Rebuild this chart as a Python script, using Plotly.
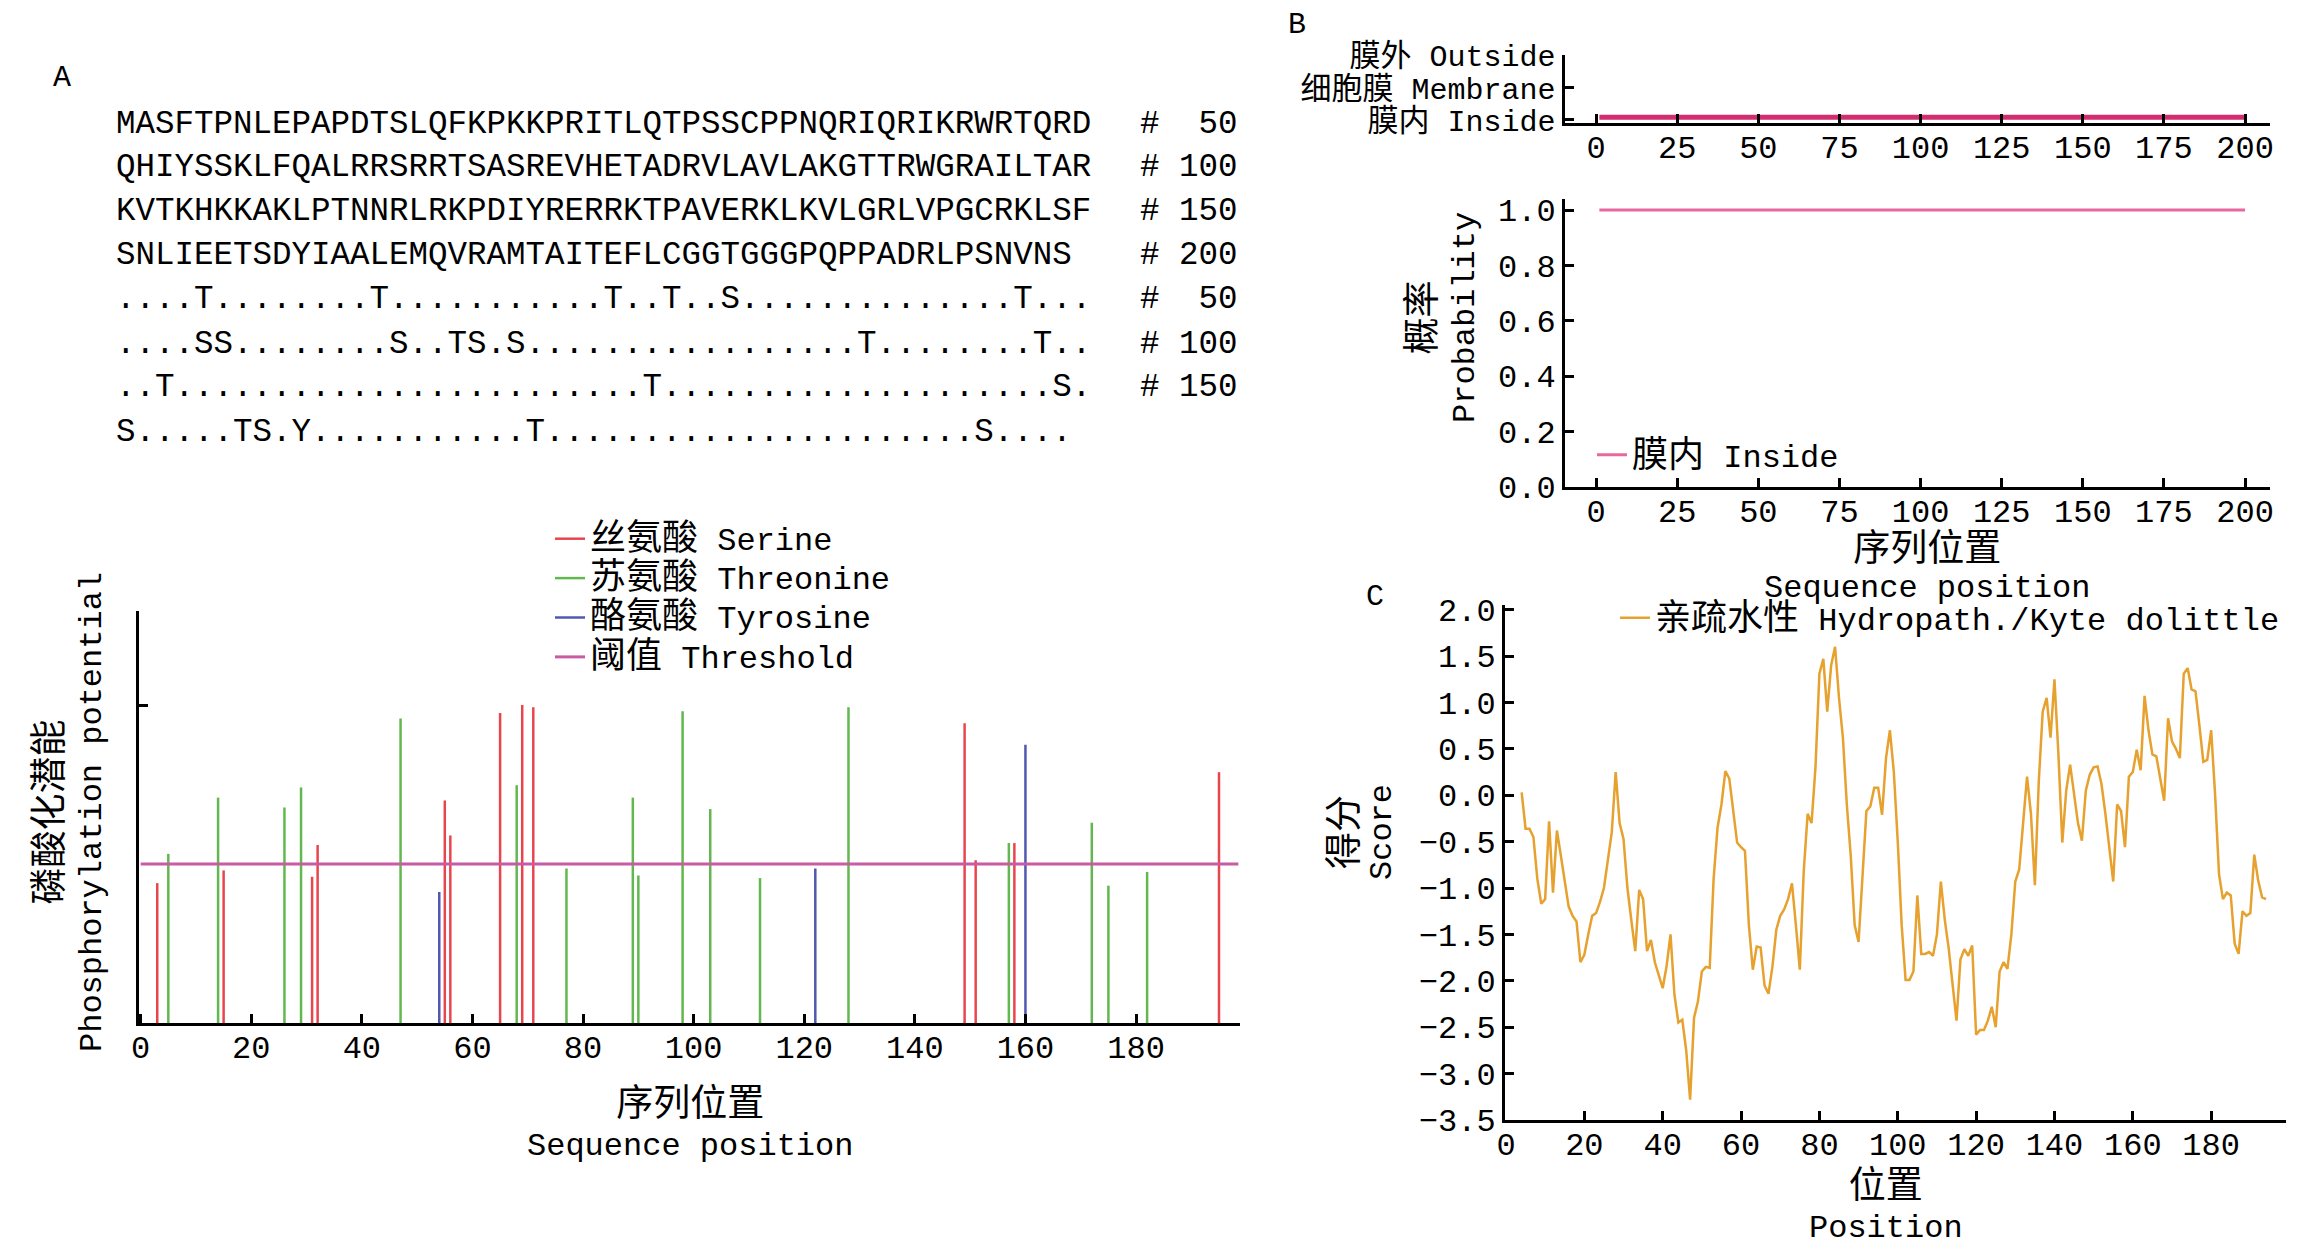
import plotly.graph_objects as go

W, H = 2316, 1254
OFF = 8  # the page body margin pushes the figure 8 px right and down
FONT = "Liberation Mono, Noto Sans CJK SC, monospace"

# ---- panel A: sequence with predicted sites ----
seq_rows = [
    "MASFTPNLEPAPDTSLQFKPKKPRITLQTPSSCPPNQRIQRIKRWRTQRD",
    "QHIYSSKLFQALRRSRRTSASREVHETADRVLAVLAKGTTRWGRAILTAR",
    "KVTKHKKAKLPTNNRLRKPDIYRERRKTPAVERKLKVLGRLVPGCRKLSF",
    "SNLIEETSDYIAALEMQVRAMTAITEFLCGGTGGGPQPPADRLPSNVNS",
]
site_rows = [
    "....T........T...........T..T..S..............T...",
    "....SS........S..TS.S.................T........T..",
    "..T........................T....................S.",
    "S.....TS.Y...........T......................S....",
]
row_marks = ["#  50", "# 100", "# 150", "# 200", "#  50", "# 100", "# 150", ""]

# ---- panel A: phosphorylation potential ----
ser_pos = [3, 15, 31, 32, 55, 56, 65, 69, 71, 149, 151, 158, 195]
ser_val = [0.44, 0.48, 0.46, 0.56, 0.70, 0.59, 0.975, 1.0, 0.993, 0.943, 0.512, 0.566, 0.789]
thr_pos = [5, 14, 26, 29, 47, 68, 77, 89, 90, 98, 103, 112, 128, 157, 172, 175, 182]
thr_val = [0.532, 0.709, 0.678, 0.741, 0.958, 0.748, 0.486, 0.709, 0.464, 0.981,
           0.673, 0.456, 0.993, 0.566, 0.630, 0.432, 0.475]
tyr_pos = [54, 122, 160]
tyr_val = [0.412, 0.486, 0.875]
threshold = 0.5

# ---- panel B: TMHMM ----
topo_x = [1, 200]
topo_y = [0.08, 0.08]
prob_x = [1, 200]
prob_y = [1.0, 1.0]

# ---- panel C: Kyte-Doolittle hydropathy ----
hydro_pos = list(range(4, 195))
hydro_val = [
    0.03, -0.36, -0.36, -0.45, -0.9, -1.17, -1.12,                       # 4-10
    -0.28, -1.05, -0.38, -0.65, -0.93, -1.2, -1.3, -1.36, -1.8, -1.72,   # 11-20
    -1.5, -1.3, -1.27, -1.15, -1.0, -0.7, -0.4, 0.25, -0.3, -0.47,       # 21-30
    -1.0, -1.35, -1.68, -1.02, -1.12, -1.68, -1.56, -1.8, -1.95, -2.08,  # 31-40
    -1.84, -1.5, -2.15, -2.45, -2.42, -2.75, -3.28, -2.4, -2.22, -1.9,   # 41-50
    -1.85, -1.86, -0.9, -0.35, -0.1, 0.26, 0.18, -0.2, -0.51, -0.56,     # 51-60
    -0.6, -1.4, -1.88, -1.63, -1.64, -2.05, -2.14, -1.85, -1.45, -1.3,   # 61-70
    -1.23, -1.12, -0.95, -1.4, -1.88, -0.82, -0.2, -0.3, 0.3, 1.31,      # 71-80
    1.47, 0.9, 1.4, 1.6, 1.05, 0.62, -0.1, -0.65, -1.4, -1.58,           # 81-90
    -0.85, -0.17, -0.12, 0.08, 0.08, -0.21, 0.4, 0.7, 0.25, -0.5,        # 91-100
    -1.4, -1.99, -1.99, -1.9, -1.08, -1.71, -1.71, -1.69, -1.73, -1.5,   # 101-110
    -0.93, -1.34, -1.65, -2.03, -2.43, -1.77, -1.66, -1.73, -1.62, -2.58,  # 111-120
    -2.53, -2.53, -2.43, -2.28, -2.5, -1.9, -1.8, -1.87, -1.5, -0.93,    # 121-130
    -0.8, -0.3, 0.2, -0.2, -0.97, 0.15, 0.9, 1.05, 0.62, 1.25,           # 131-140
    0.45, -0.51, 0.05, 0.33, 0.0, -0.3, -0.49, 0.05, 0.22, 0.3,          # 141-150
    0.31, 0.12, -0.2, -0.56, -0.93, -0.1, -0.17, -0.56, 0.2, 0.25,       # 151-160
    0.49, 0.27, 1.07, 0.7, 0.44, 0.42, 0.18, -0.06, 0.83, 0.58,          # 161-170
    0.5, 0.4, 1.31, 1.37, 1.14, 1.12, 0.75, 0.36, 0.38, 0.7,             # 171-180
    0.01, -0.85, -1.12, -1.05, -1.08, -1.6, -1.71, -1.25, -1.3, -1.27,   # 181-190
    -0.64, -0.92, -1.1, -1.12,                                           # 191-194
]


def px(x):
    return (x - OFF) / W


def py(y):
    return 1 - (y - OFF) / H


def mix(cn, en, cn_size=36, en_size=32):
    return ('<span style="font-size:%dpx">%s</span>'
            '<span style="font-size:%dpx"> %s</span>' % (cn_size, cn, en_size, en))


def two_lines(cn, en):
    return ('<span style="font-size:37px">%s</span><br>'
            '<span style="font-size:32px">%s</span>' % (cn, en))


def stems(pos, val):
    xs, ys = [], []
    for p, v in zip(pos, val):
        xs += [p, p, None]
        ys += [0, v, None]
    return xs, ys


fig = go.Figure()

sx, sy = stems(ser_pos, ser_val)
fig.add_trace(go.Scatter(x=sx, y=sy, mode="lines", name=mix("丝氨酸", "Serine"),
                         line=dict(color="#e8464f", width=2.5), legend="legend"))
tx, ty = stems(thr_pos, thr_val)
fig.add_trace(go.Scatter(x=tx, y=ty, mode="lines", name=mix("苏氨酸", "Threonine"),
                         line=dict(color="#62b84e", width=2.5), legend="legend"))
yx, yy = stems(tyr_pos, tyr_val)
fig.add_trace(go.Scatter(x=yx, y=yy, mode="lines", name=mix("酪氨酸", "Tyrosine"),
                         line=dict(color="#5058b0", width=2.5), legend="legend"))
fig.add_trace(go.Scatter(x=[0, 198.5], y=[threshold, threshold], mode="lines",
                         name=mix("阈值", "Threshold"),
                         line=dict(color="#c85aa6", width=3), legend="legend"))

fig.add_trace(go.Scatter(x=topo_x, y=topo_y, mode="lines", showlegend=False,
                         line=dict(color="#d22d6e", width=5), xaxis="x2", yaxis="y2"))
fig.add_trace(go.Scatter(x=prob_x, y=prob_y, mode="lines", name=mix("膜内", "Inside"),
                         line=dict(color="#e8689e", width=3), xaxis="x3", yaxis="y3",
                         legend="legend2"))

fig.add_trace(go.Scatter(x=hydro_pos, y=hydro_val, mode="lines",
                         name=mix("亲疏水性", "Hydropath./Kyte dolittle"),
                         line=dict(color="#e6a12e", width=2.5), xaxis="x4", yaxis="y4",
                         legend="legend3"))

axis_style = dict(showline=True, linecolor="black", linewidth=3, ticks="inside",
                  ticklen=9, tickwidth=3, tickcolor="black", showgrid=False,
                  zeroline=False, automargin=False,
                  tickfont=dict(family=FONT, size=32, color="black"))
x_style = dict(axis_style, ticklabelstandoff=-6)

fig.update_layout(
    width=W, height=H,
    margin=dict(l=0, r=0, t=0, b=0, pad=0, autoexpand=False),
    paper_bgcolor="white", plot_bgcolor="white",
    font=dict(family=FONT, size=32, color="black"),
    xaxis=dict(domain=[px(139), px(1240)], anchor="y", range=[-0.3, 198.8],
               tickvals=list(range(0, 181, 20)), **x_style),
    yaxis=dict(domain=[py(1023), py(611)], anchor="x", range=[0, 1.296],
               tickvals=[1.0], showticklabels=False, **axis_style),
    xaxis2=dict(domain=[px(1565), px(2270)], anchor="y2", range=[-9.6, 207.7],
                tickvals=list(range(0, 201, 25)), **x_style),
    yaxis2=dict(domain=[py(123), py(55)], anchor="x2", range=[-0.1, 2.0],
                tickvals=[0, 1, 2],
                ticktext=[mix("膜内", "Inside", 31, 30), mix("细胞膜", "Membrane", 31, 30),
                          mix("膜外", "Outside", 31, 30)], **axis_style),
    xaxis3=dict(domain=[px(1565), px(2270)], anchor="y3", range=[-9.6, 207.7],
                tickvals=list(range(0, 201, 25)), **x_style),
    yaxis3=dict(domain=[py(487), py(199)], anchor="x3", range=[0, 1.04],
                tickvals=[0, 0.2, 0.4, 0.6, 0.8, 1.0], tickformat=".1f", **axis_style),
    xaxis4=dict(domain=[px(1505), px(2286)], anchor="y4", range=[-0.25, 199.1],
                tickvals=list(range(0, 181, 20)), **x_style),
    yaxis4=dict(domain=[py(1120), py(605)], anchor="x4", range=[-3.5, 2.05],
                dtick=0.5, tick0=-3.5, tickformat=".1f", **axis_style),
    legend=dict(x=px(550), y=py(514), xanchor="left", yanchor="top",
                bgcolor="rgba(0,0,0,0)", font=dict(family=FONT, size=28),
                tracegroupgap=0),
    legend2=dict(x=px(1592), y=py(455), xanchor="left", yanchor="middle",
                 bgcolor="rgba(0,0,0,0)", font=dict(family=FONT, size=32)),
    legend3=dict(x=px(1615), y=py(618), xanchor="left", yanchor="middle",
                 bgcolor="rgba(0,0,0,0)", font=dict(family=FONT, size=32)),
)

ann = []


def text(x, y, s, size=32, xanchor="center", angle=0):
    ann.append(dict(x=px(x), y=py(y), xref="paper", yref="paper", text=s,
                    showarrow=False, xanchor=xanchor, yanchor="middle",
                    textangle=angle, font=dict(family=FONT, size=size, color="black")))


# panel letters
text(62, 78, "A", 30)
text(1297, 25, "B", 30)
text(1375, 597, "C", 30)

# sequence block
row_y = [125, 168, 212, 256, 300, 344, 388, 432]
for i, s in enumerate(seq_rows + site_rows):
    text(114, row_y[i], s, 32.5, xanchor="left")
    if row_marks[i]:
        text(1138, row_y[i], row_marks[i], 32.5, xanchor="left")

# axis titles (two lines: Chinese over English)
text(70, 812, two_lines("磷酸化潜能", "Phosphorylation potential"), 30, angle=-90)
text(690, 1124, two_lines("序列位置", "Sequence position"), 30)
text(1443, 318, two_lines("概率", "Probability"), 30, angle=-90)
text(1927, 567, two_lines("序列位置", "Sequence position"), 28)
text(1362, 832, two_lines("得分", "Score"), 26, angle=-90)
text(1886, 1206, two_lines("位置", "Position"), 30)

fig.update_layout(annotations=ann)

fig.write_html("out.html")
